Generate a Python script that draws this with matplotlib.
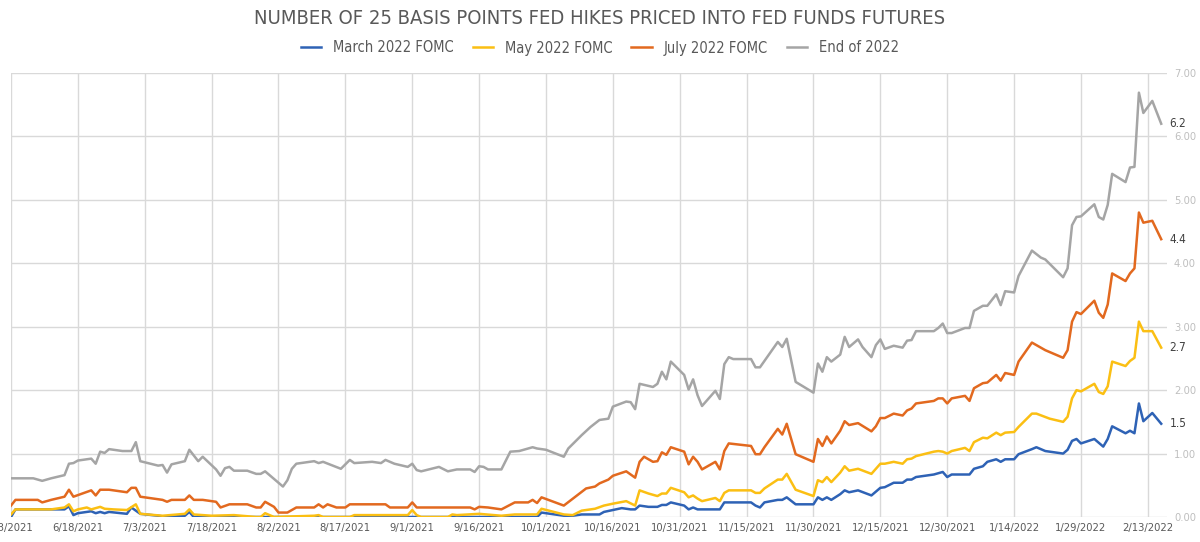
import matplotlib
matplotlib.use('Agg')
import matplotlib.pyplot as plt
from matplotlib import font_manager
import pandas as pd

# use a narrow face when one is installed (the original uses a condensed DIN-like font)
installed = [(f.name, f.stretch) for f in font_manager.fontManager.ttflist]
if any(n == 'Liberation Sans Narrow' for n, s in installed):
    plt.rcParams['font.family'] = ['Liberation Sans Narrow', 'DejaVu Sans']
elif any(n == 'DejaVu Sans' and s == 'condensed' for n, s in installed):
    plt.rcParams['font.family'] = ['DejaVu Sans']
    plt.rcParams['font.stretch'] = 'condensed'
else:
    plt.rcParams['font.family'] = ['Liberation Sans', 'DejaVu Sans']

title = 'NUMBER OF 25 BASIS POINTS FED HIKES PRICED INTO FED FUNDS FUTURES'

# March 2022 FOMC
march_dates = ['6/3/21', '6/4/21', '6/12/21', '6/15/21', '6/16/21', '6/17/21', '6/18/21', '6/21/21', '6/22/21',
               '6/23/21', '6/24/21', '6/25/21', '6/29/21', '6/30/21', '7/2/21', '7/6/21', '7/8/21', '7/12/21',
               '7/13/21', '7/14/21', '9/29/21', '9/30/21', '10/5/21', '10/7/21', '10/9/21', '10/13/21', '10/14/21',
               '10/18/21', '10/20/21', '10/21/21', '10/22/21', '10/24/21', '10/26/21', '10/27/21', '10/28/21',
               '10/29/21', '11/1/21', '11/2/21', '11/3/21', '11/4/21', '11/9/21', '11/10/21', '11/16/21',
               '11/17/21', '11/18/21', '11/19/21', '11/22/21', '11/23/21', '11/24/21', '11/26/21', '11/30/21',
               '12/1/21', '12/2/21', '12/3/21', '12/4/21', '12/6/21', '12/7/21', '12/8/21', '12/10/21', '12/13/21',
               '12/15/21', '12/16/21', '12/18/21', '12/20/21', '12/21/21', '12/22/21', '12/23/21', '12/27/21',
               '12/29/21', '12/30/21', '12/31/21', '1/4/22', '1/5/22', '1/7/22', '1/8/22', '1/10/22', '1/11/22',
               '1/12/22', '1/14/22', '1/15/22', '1/18/22', '1/19/22', '1/21/22', '1/25/22', '1/26/22', '1/27/22',
               '1/28/22', '1/29/22', '2/1/22', '2/3/22', '2/4/22', '2/5/22', '2/8/22', '2/9/22', '2/10/22',
               '2/11/22', '2/12/22', '2/14/22', '2/16/22']
march_vals = [0.00, 0.12, 0.12, 0.12, 0.17, 0.03, 0.06, 0.09, 0.06,
              0.08, 0.06, 0.08, 0.05, 0.15, 0.05, 0.02, 0.00, 0.02,
              0.08, 0.00, 0.00, 0.07, 0.02, 0.02, 0.04, 0.04, 0.08,
              0.14, 0.12, 0.12, 0.18, 0.16, 0.16, 0.19, 0.19,
              0.23, 0.18, 0.12, 0.15, 0.12, 0.12, 0.23, 0.23,
              0.18, 0.15, 0.23, 0.27, 0.27, 0.31, 0.20, 0.20,
              0.31, 0.27, 0.31, 0.27, 0.36, 0.42, 0.39, 0.42, 0.34,
              0.46, 0.47, 0.54, 0.54, 0.59, 0.59, 0.63, 0.67,
              0.71, 0.63, 0.67, 0.67, 0.76, 0.80, 0.87, 0.91, 0.87,
              0.91, 0.91, 0.99, 1.07, 1.10, 1.04, 1.00, 1.06, 1.20,
              1.23, 1.16, 1.23, 1.11, 1.23, 1.43, 1.32, 1.36, 1.32,
              1.79, 1.51, 1.64, 1.47]

# May 2022 FOMC
may_dates = ['6/3/21', '6/4/21', '6/12/21', '6/15/21', '6/16/21', '6/17/21', '6/18/21', '6/20/21', '6/21/21',
             '6/23/21', '6/24/21', '6/26/21', '6/29/21', '7/1/21', '7/2/21', '7/7/21', '7/12/21', '7/13/21',
             '7/14/21', '7/18/21', '7/23/21', '7/28/21', '7/29/21', '7/30/21', '8/1/21', '8/10/21', '8/11/21',
             '8/12/21', '8/18/21', '8/19/21', '8/31/21', '9/1/21', '9/2/21', '9/3/21', '9/9/21', '9/10/21',
             '9/11/21', '9/16/21', '9/21/21', '9/24/21', '9/29/21', '9/30/21', '10/5/21', '10/7/21', '10/9/21',
             '10/12/21', '10/14/21', '10/16/21', '10/19/21', '10/21/21', '10/22/21', '10/24/21', '10/26/21',
             '10/27/21', '10/28/21', '10/29/21', '11/1/21', '11/2/21', '11/3/21', '11/4/21', '11/5/21',
             '11/8/21', '11/9/21', '11/10/21', '11/11/21', '11/16/21', '11/17/21', '11/18/21', '11/19/21',
             '11/22/21', '11/23/21', '11/24/21', '11/26/21', '11/30/21', '12/1/21', '12/2/21', '12/3/21',
             '12/4/21', '12/6/21', '12/7/21', '12/8/21', '12/10/21', '12/13/21', '12/15/21', '12/16/21',
             '12/18/21', '12/20/21', '12/21/21', '12/22/21', '12/23/21', '12/27/21', '12/28/21', '12/29/21',
             '12/30/21', '12/31/21', '1/3/22', '1/4/22', '1/5/22', '1/7/22', '1/8/22', '1/10/22', '1/11/22',
             '1/12/22', '1/14/22', '1/15/22', '1/18/22', '1/19/22', '1/22/22', '1/25/22', '1/26/22', '1/27/22',
             '1/28/22', '1/29/22', '2/1/22', '2/2/22', '2/3/22', '2/4/22', '2/5/22', '2/8/22', '2/9/22',
             '2/10/22', '2/11/22', '2/12/22', '2/14/22', '2/16/22']
may_vals = [0.04, 0.12, 0.12, 0.15, 0.20, 0.09, 0.12, 0.15, 0.12,
            0.16, 0.13, 0.12, 0.11, 0.20, 0.05, 0.02, 0.05, 0.12,
            0.04, 0.02, 0.03, 0.00, 0.00, 0.06, 0.00, 0.02, 0.03,
            0.00, 0.00, 0.03, 0.03, 0.11, 0.03, 0.00, 0.00, 0.04,
            0.03, 0.05, 0.02, 0.04, 0.04, 0.13, 0.04, 0.03, 0.10,
            0.13, 0.18, 0.21, 0.25, 0.18, 0.42, 0.37, 0.33,
            0.37, 0.37, 0.46, 0.39, 0.31, 0.34, 0.29, 0.25,
            0.30, 0.25, 0.38, 0.42, 0.42, 0.38, 0.38, 0.45,
            0.59, 0.59, 0.68, 0.43, 0.33, 0.58, 0.55, 0.63,
            0.55, 0.70, 0.80, 0.73, 0.76, 0.68, 0.84, 0.84,
            0.87, 0.84, 0.91, 0.92, 0.96, 1.03, 1.04, 1.03,
            1.00, 1.04, 1.09, 1.04, 1.18, 1.25, 1.24, 1.33, 1.29,
            1.33, 1.34, 1.42, 1.63, 1.63, 1.55, 1.50, 1.58, 1.87,
            2.00, 1.98, 2.10, 1.97, 1.94, 2.06, 2.45, 2.38, 2.46,
            2.51, 3.08, 2.93, 2.93, 2.67]

# July 2022 FOMC
july_dates = ['6/3/21', '6/4/21', '6/9/21', '6/10/21', '6/12/21', '6/15/21', '6/16/21', '6/17/21', '6/21/21',
              '6/22/21', '6/23/21', '6/25/21', '6/29/21', '6/30/21', '7/1/21', '7/2/21', '7/7/21', '7/8/21',
              '7/9/21', '7/12/21', '7/13/21', '7/14/21', '7/16/21', '7/19/21', '7/20/21', '7/22/21', '7/26/21',
              '7/28/21', '7/29/21', '7/30/21', '8/1/21', '8/2/21', '8/4/21', '8/6/21', '8/10/21', '8/11/21',
              '8/12/21', '8/13/21', '8/15/21', '8/17/21', '8/18/21', '8/26/21', '8/27/21', '8/31/21', '9/1/21',
              '9/2/21', '9/14/21', '9/15/21', '9/16/21', '9/18/21', '9/21/21', '9/24/21', '9/27/21', '9/28/21',
              '9/29/21', '9/30/21', '10/5/21', '10/10/21', '10/12/21', '10/13/21', '10/15/21', '10/16/21',
              '10/19/21', '10/21/21', '10/22/21', '10/23/21', '10/25/21', '10/26/21', '10/27/21', '10/28/21',
              '10/29/21', '11/1/21', '11/2/21', '11/3/21', '11/4/21', '11/5/21', '11/8/21', '11/9/21',
              '11/10/21', '11/11/21', '11/16/21', '11/17/21', '11/18/21', '11/19/21', '11/22/21', '11/23/21',
              '11/24/21', '11/26/21', '11/30/21', '12/1/21', '12/2/21', '12/3/21', '12/4/21', '12/6/21',
              '12/7/21', '12/8/21', '12/10/21', '12/13/21', '12/14/21', '12/15/21', '12/16/21', '12/18/21',
              '12/20/21', '12/21/21', '12/22/21', '12/23/21', '12/27/21', '12/28/21', '12/29/21', '12/30/21',
              '12/31/21', '1/3/22', '1/4/22', '1/5/22', '1/7/22', '1/8/22', '1/10/22', '1/11/22', '1/12/22',
              '1/14/22', '1/15/22', '1/18/22', '1/19/22', '1/21/22', '1/25/22', '1/26/22', '1/27/22', '1/28/22',
              '1/29/22', '2/1/22', '2/2/22', '2/3/22', '2/4/22', '2/5/22', '2/8/22', '2/9/22', '2/10/22',
              '2/11/22', '2/12/22', '2/14/22', '2/16/22']
july_vals = [0.18, 0.27, 0.27, 0.23, 0.27, 0.32, 0.43, 0.32, 0.42,
             0.34, 0.43, 0.43, 0.39, 0.46, 0.46, 0.32, 0.27, 0.24,
             0.27, 0.27, 0.34, 0.27, 0.27, 0.24, 0.15, 0.20, 0.20,
             0.15, 0.15, 0.24, 0.16, 0.07, 0.07, 0.15, 0.15, 0.20,
             0.15, 0.20, 0.15, 0.15, 0.20, 0.20, 0.15, 0.15, 0.23,
             0.15, 0.15, 0.12, 0.16, 0.15, 0.12, 0.23, 0.23, 0.27,
             0.22, 0.31, 0.18, 0.45, 0.48, 0.53, 0.59, 0.65,
             0.72, 0.62, 0.87, 0.95, 0.87, 0.88, 1.02, 0.98,
             1.10, 1.03, 0.83, 0.95, 0.87, 0.75, 0.87, 0.75,
             1.04, 1.16, 1.12, 0.99, 0.99, 1.10, 1.39, 1.30,
             1.47, 0.99, 0.87, 1.23, 1.12, 1.27, 1.16, 1.36,
             1.51, 1.45, 1.48, 1.35, 1.43, 1.56, 1.56, 1.63,
             1.60, 1.68, 1.71, 1.79, 1.83, 1.87, 1.87, 1.79,
             1.87, 1.91, 1.83, 2.03, 2.11, 2.12, 2.24, 2.15, 2.27,
             2.24, 2.45, 2.75, 2.71, 2.63, 2.51, 2.63, 3.08, 3.23,
             3.20, 3.41, 3.22, 3.14, 3.35, 3.84, 3.72, 3.84, 3.92,
             4.80, 4.64, 4.67, 4.38]

# End of 2022
end_dates = ['6/3/21', '6/8/21', '6/10/21', '6/12/21', '6/15/21', '6/16/21', '6/17/21', '6/18/21', '6/21/21',
             '6/22/21', '6/23/21', '6/24/21', '6/25/21', '6/28/21', '6/30/21', '7/1/21', '7/2/21', '7/6/21',
             '7/7/21', '7/8/21', '7/9/21', '7/12/21', '7/13/21', '7/15/21', '7/16/21', '7/19/21', '7/20/21',
             '7/21/21', '7/22/21', '7/23/21', '7/26/21', '7/28/21', '7/29/21', '7/30/21', '7/31/21', '8/3/21',
             '8/4/21', '8/5/21', '8/6/21', '8/10/21', '8/11/21', '8/12/21', '8/16/21', '8/18/21', '8/19/21',
             '8/23/21', '8/25/21', '8/26/21', '8/28/21', '8/31/21', '9/1/21', '9/2/21', '9/3/21', '9/7/21',
             '9/9/21', '9/11/21', '9/14/21', '9/15/21', '9/16/21', '9/17/21', '9/18/21', '9/21/21', '9/23/21',
             '9/25/21', '9/28/21', '9/29/21', '10/1/21', '10/5/21', '10/6/21', '10/7/21', '10/9/21', '10/11/21',
             '10/13/21', '10/15/21', '10/16/21', '10/19/21', '10/20/21', '10/21/21', '10/22/21', '10/25/21',
             '10/26/21', '10/27/21', '10/28/21', '10/29/21', '11/1/21', '11/2/21', '11/3/21', '11/4/21',
             '11/5/21', '11/8/21', '11/9/21', '11/10/21', '11/11/21', '11/12/21', '11/16/21', '11/17/21',
             '11/18/21', '11/22/21', '11/23/21', '11/24/21', '11/26/21', '11/30/21', '12/1/21', '12/2/21',
             '12/3/21', '12/4/21', '12/6/21', '12/7/21', '12/8/21', '12/10/21', '12/11/21', '12/13/21',
             '12/14/21', '12/15/21', '12/16/21', '12/18/21', '12/20/21', '12/21/21', '12/22/21', '12/23/21',
             '12/27/21', '12/28/21', '12/29/21', '12/30/21', '12/31/21', '1/3/22', '1/4/22', '1/5/22', '1/7/22',
             '1/8/22', '1/10/22', '1/11/22', '1/12/22', '1/14/22', '1/15/22', '1/18/22', '1/20/22', '1/21/22',
             '1/25/22', '1/26/22', '1/27/22', '1/28/22', '1/29/22', '2/1/22', '2/2/22', '2/3/22', '2/4/22',
             '2/5/22', '2/8/22', '2/9/22', '2/10/22', '2/11/22', '2/12/22', '2/14/22', '2/16/22']
end_vals = [0.61, 0.61, 0.57, 0.61, 0.66, 0.84, 0.85, 0.89, 0.92,
            0.84, 1.03, 1.01, 1.07, 1.04, 1.04, 1.18, 0.88, 0.81,
            0.82, 0.70, 0.83, 0.88, 1.06, 0.88, 0.95, 0.75, 0.65,
            0.77, 0.79, 0.73, 0.73, 0.68, 0.68, 0.72, 0.66, 0.48,
            0.58, 0.76, 0.84, 0.88, 0.85, 0.87, 0.76, 0.90, 0.85,
            0.87, 0.85, 0.90, 0.84, 0.79, 0.84, 0.74, 0.72, 0.79,
            0.72, 0.75, 0.75, 0.71, 0.80, 0.79, 0.75, 0.75, 1.03,
            1.04, 1.10, 1.08, 1.06, 0.95, 1.08, 1.15, 1.29, 1.42,
            1.53, 1.55, 1.74, 1.82, 1.81, 1.70, 2.10, 2.05,
            2.10, 2.29, 2.17, 2.45, 2.24, 2.01, 2.17, 1.92,
            1.75, 1.99, 1.86, 2.41, 2.52, 2.49, 2.49, 2.36,
            2.36, 2.76, 2.68, 2.81, 2.13, 1.96, 2.42, 2.29,
            2.52, 2.45, 2.56, 2.84, 2.68, 2.80, 2.68, 2.52,
            2.71, 2.80, 2.65, 2.70, 2.67, 2.78, 2.79, 2.93,
            2.93, 2.98, 3.05, 2.90, 2.90, 2.98, 2.98, 3.25, 3.33,
            3.33, 3.51, 3.34, 3.56, 3.54, 3.80, 4.20, 4.09, 4.06,
            3.78, 3.92, 4.60, 4.73, 4.74, 4.93, 4.73, 4.69, 4.92,
            5.41, 5.28, 5.51, 5.52, 6.69, 6.37, 6.56, 6.20]

series_names = ['March 2022 FOMC', 'May 2022 FOMC', 'July 2022 FOMC', 'End of 2022']
series_colors = ['#2E62B5', '#FBBF13', '#E2691F', '#A5A5A5']
series = [(march_dates, march_vals), (may_dates, may_vals), (july_dates, july_vals), (end_dates, end_vals)]

fig = plt.figure(figsize=(12, 5.42), dpi=100)
ax = fig.add_axes([11 / 1200, 1 - 517 / 542, (1167 - 11) / 1200, (517 - 73) / 542])

for (d, v), name, color in zip(series, series_names, series_colors):
    x = pd.to_datetime(d, format='%m/%d/%y')
    ax.plot(x, v, color=color, lw=1.8, label=name, solid_joinstyle='round')
    # value label at the end of each line
    ax.annotate('{:.1f}'.format(v[-1]), xy=(x[-1], v[-1]), xytext=(6, 0), textcoords='offset points',
                va='center', ha='left', fontsize=8.5, color='#404040')

start = pd.Timestamp('2021-06-03')
ax.set_xlim(start, start + pd.Timedelta(days=259.3))
ticks = pd.date_range(start, periods=18, freq='15D')
ax.set_xticks(ticks)
ax.set_xticklabels(['{}/{}/{}'.format(t.month, t.day, t.year) for t in ticks])
ax.set_ylim(0, 7)
ax.set_yticks(range(8))
ax.set_yticklabels(['{:.2f}'.format(i) for i in range(8)])
ax.yaxis.tick_right()

ax.grid(color='#D9D9D9', lw=1)
ax.set_axisbelow(True)
for s in ax.spines.values():
    s.set_visible(False)
ax.tick_params(axis='x', length=0, pad=4, labelsize=8, labelcolor='#595959')
ax.tick_params(axis='y', length=0, pad=5, labelsize=8, labelcolor='#BFBFBF')

fig.text(0.5, 1 - 19 / 542, title, ha='center', va='center', fontsize=14.5, color='#595959')
fig.legend(loc='center', bbox_to_anchor=(0.5, 1 - 48 / 542), ncol=4, frameon=False, handlelength=1.4,
           columnspacing=1.3, fontsize=10.5, labelcolor='#595959')

fig.savefig('out.png', dpi=100)
